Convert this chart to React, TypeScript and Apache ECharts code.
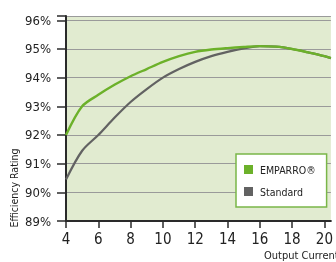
import React, { useEffect, useRef } from "react";
import * as echarts from "echarts";

const xEmparro = [4, 5, 6, 7, 8, 9, 10, 11, 12, 13, 14, 15, 16, 17, 18, 19, 20, 20.4];
const emparro = [92.0, 93.0, 93.4, 93.75, 94.05, 94.3, 94.55, 94.75, 94.9, 94.98, 95.03, 95.07, 95.1, 95.08, 95.0, 94.88, 94.75, 94.68];
const xStandard = [4, 5, 6, 7, 8, 9, 10, 11, 12, 13, 14, 15, 16, 17, 18, 19, 20, 20.4];
const standard = [90.45, 91.45, 92.0, 92.6, 93.15, 93.6, 94.0, 94.3, 94.55, 94.75, 94.9, 95.02, 95.1, 95.08, 95.0, 94.88, 94.75, 94.68];
const seriesNames = ["EMPARRO®", "Standard"];
const xTitle = "Output Current";
const yTitle = "Efficiency Rating";

const FONT = "'DejaVu Sans Condensed', sans-serif";

export default function App() {
  const ref = useRef<HTMLDivElement>(null);
  useEffect(() => {
    const chart = echarts.init(ref.current!, null, { renderer: "svg" });
    chart.setOption({
      animation: false,
      grid: {
        left: 66,
        right: 0,
        top: 16,
        bottom: 41,
        show: true,
        backgroundColor: "#e1ebd0",
        borderWidth: 0,
      },
      xAxis: {
        type: "value",
        min: 4,
        max: 20.4,
        interval: 2,
        axisLine: { show: true, onZero: false, lineStyle: { color: "#2a2a2a", width: 2 } },
        axisTick: { show: true, length: 7, lineStyle: { color: "#2a2a2a", width: 1.5 } },
        axisLabel: { color: "#222", fontSize: 15, fontFamily: FONT, margin: 10 },
        splitLine: { show: false },
      },
      yAxis: {
        type: "value",
        min: 89,
        max: 96.15,
        interval: 1,
        axisLine: { show: true, lineStyle: { color: "#2a2a2a", width: 2 } },
        axisTick: { show: true, length: 9, lineStyle: { color: "#2a2a2a", width: 1.5 } },
        axisLabel: {
          color: "#222",
          fontSize: 13,
          fontFamily: FONT,
          margin: 15,
          formatter: (v: number) => (Number.isInteger(v) ? v + "%" : ""),
        },
        splitLine: { show: true, lineStyle: { color: "#9a9a9a", width: 1.2 } },
      },
      legend: {
        orient: "vertical",
        left: 236,
        top: 154,
        backgroundColor: "#ffffff",
        borderColor: "#7ab648",
        borderWidth: 1.5,
        padding: [10, 11, 10, 8],
        itemGap: 11,
        itemWidth: 9,
        itemHeight: 9,
        textStyle: { fontSize: 10.5, fontFamily: FONT, color: "#222", padding: [0, 0, 0, 2] },
        data: [
          { name: seriesNames[0], icon: "rect" },
          { name: seriesNames[1], icon: "rect" },
        ],
      },
      graphic: [
        {
          type: "text",
          x: 264,
          y: 250,
          style: { text: xTitle, fontSize: 11, fontFamily: FONT, fill: "#222" },
        },
        {
          type: "text",
          x: 14,
          y: 188,
          rotation: Math.PI / 2,
          style: { text: yTitle, fontSize: 10.5, fontFamily: FONT, fill: "#222", align: "center", verticalAlign: "middle" },
        },
      ],
      series: [
        {
          name: seriesNames[1],
          type: "line",
          data: xStandard.map((x, i) => [x, standard[i]]),
          smooth: 0.3,
          showSymbol: false,
          lineStyle: { color: "#626262", width: 2.2 },
          itemStyle: { color: "#626262" },
          z: 2,
        },
        {
          name: seriesNames[0],
          type: "line",
          data: xEmparro.map((x, i) => [x, emparro[i]]),
          smooth: 0.3,
          showSymbol: false,
          lineStyle: { color: "#6cb12a", width: 2.4 },
          itemStyle: { color: "#6cb12a" },
          z: 3,
        },
      ],
    });
    return () => chart.dispose();
  }, []);
  return <div ref={ref} style={{ position: "fixed", left: 0, top: 0, width: 336, height: 262 }} />;
}
